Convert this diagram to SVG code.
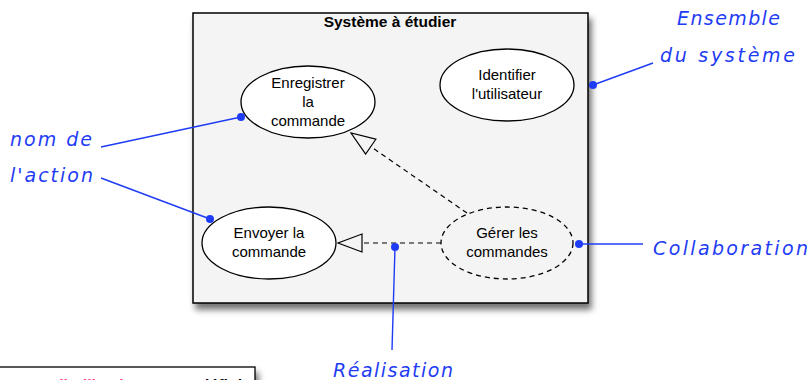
<svg xmlns="http://www.w3.org/2000/svg" width="811" height="380" viewBox="0 0 811 380">
  <defs>
    <filter id="shadow" x="-10%" y="-10%" width="125%" height="130%">
      <feDropShadow dx="3" dy="6" stdDeviation="3" flood-color="#000" flood-opacity="0.55"/>
    </filter>
    <marker id="realize" viewBox="0 0 26 20" refX="25" refY="10" markerWidth="26" markerHeight="20" markerUnits="userSpaceOnUse" orient="auto">
      <path d="M1,1 L25,10 L1,19 Z" fill="#f4f4f4" stroke="#000" stroke-width="1.2"/>
    </marker>
  </defs>
  <style>
    .uc { fill: #fff; stroke: #000; stroke-width: 1.3; }
    .uc-dash { fill: #f4f4f4; stroke: #000; stroke-width: 1.3; stroke-dasharray: 5 4; }
    .lbl { font-family: "Liberation Sans", Arial, sans-serif; font-size: 15px; fill: #000; text-anchor: middle; }
    .title { font-family: "Liberation Sans", Arial, sans-serif; font-size: 15.5px; font-weight: bold; fill: #000; text-anchor: middle; }
    .dep { fill: none; stroke: #000; stroke-width: 1.2; stroke-dasharray: 5 4; }
    .note { font-family: "DejaVu Sans", sans-serif; font-style: oblique; font-size: 19px; fill: #1f3cf5; }
    .lead { fill: none; stroke: #1f3cf5; stroke-width: 1.4; }
    .dot { fill: #1f3cf5; }
  </style>

  <!-- bottom legend box (runs past the lower edge) -->
  <g id="legend">
    <rect x="-5" y="367" width="260" height="40" fill="#fff" stroke="#000" stroke-width="1.3" filter="url(#shadow)"/>
    <text x="54" y="391" font-family="Liberation Sans, Arial, sans-serif" font-size="16" font-weight="bold"><tspan fill="#ff3c8c">d'utilisation</tspan><tspan fill="#000" x="172">est défini</tspan></text>
  </g>

  <!-- system boundary -->
  <g id="system">
    <rect x="193" y="13" width="395" height="290" fill="#f4f4f4" stroke="#000" stroke-width="1.5" filter="url(#shadow)"/>
    <text class="title" x="390" y="27">Système à étudier</text>
  </g>

  <g id="uc-enregistrer">
    <ellipse class="uc" cx="308" cy="102" rx="67" ry="36"/>
    <text class="lbl" x="308" y="88">Enregistrer</text>
    <text class="lbl" x="308" y="107">la</text>
    <text class="lbl" x="308" y="126">commande</text>
  </g>

  <g id="uc-identifier">
    <ellipse class="uc" cx="507" cy="85" rx="67" ry="36"/>
    <text class="lbl" x="507" y="80">Identifier</text>
    <text class="lbl" x="507" y="99">l'utilisateur</text>
  </g>

  <g id="uc-envoyer">
    <ellipse class="uc" cx="269" cy="243" rx="67" ry="36"/>
    <text class="lbl" x="269" y="238">Envoyer la</text>
    <text class="lbl" x="269" y="257">commande</text>
  </g>

  <g id="uc-gerer">
    <ellipse class="uc-dash" cx="507" cy="243" rx="66" ry="36"/>
    <text class="lbl" x="507" y="238">Gérer les</text>
    <text class="lbl" x="507" y="257">commandes</text>
  </g>

  <!-- realization dependencies -->
  <g id="connectors">
    <path class="dep" d="M441,243 L338,243" marker-end="url(#realize)"/>
    <path class="dep" d="M467,213 L351,133" marker-end="url(#realize)"/>
  </g>

  <!-- annotations -->
  <g id="annotations">
    <text class="note" x="677" y="25" textLength="103" lengthAdjust="spacing">Ensemble</text>
    <text class="note" x="660" y="62" textLength="135" lengthAdjust="spacing">du système</text>
    <path class="lead" d="M593,85 L653,63"/>
    <circle class="dot" cx="593" cy="85" r="4"/>

    <text class="note" x="10" y="146" textLength="82" lengthAdjust="spacing">nom de</text>
    <text class="note" x="10" y="182" textLength="83" lengthAdjust="spacing">l'action</text>
    <path class="lead" d="M101,147 L241,117"/>
    <circle class="dot" cx="241" cy="117" r="4"/>
    <path class="lead" d="M101,178 L210,219"/>
    <circle class="dot" cx="210" cy="219" r="4"/>

    <text class="note" x="653" y="255" textLength="155" lengthAdjust="spacing">Collaboration</text>
    <path class="lead" d="M579,244 L643,244"/>
    <circle class="dot" cx="579" cy="244" r="4"/>

    <text class="note" x="333" y="377" textLength="120" lengthAdjust="spacing">Réalisation</text>
    <path class="lead" d="M395,247 L392,350"/>
    <circle class="dot" cx="395" cy="247" r="4"/>
  </g>
</svg>
